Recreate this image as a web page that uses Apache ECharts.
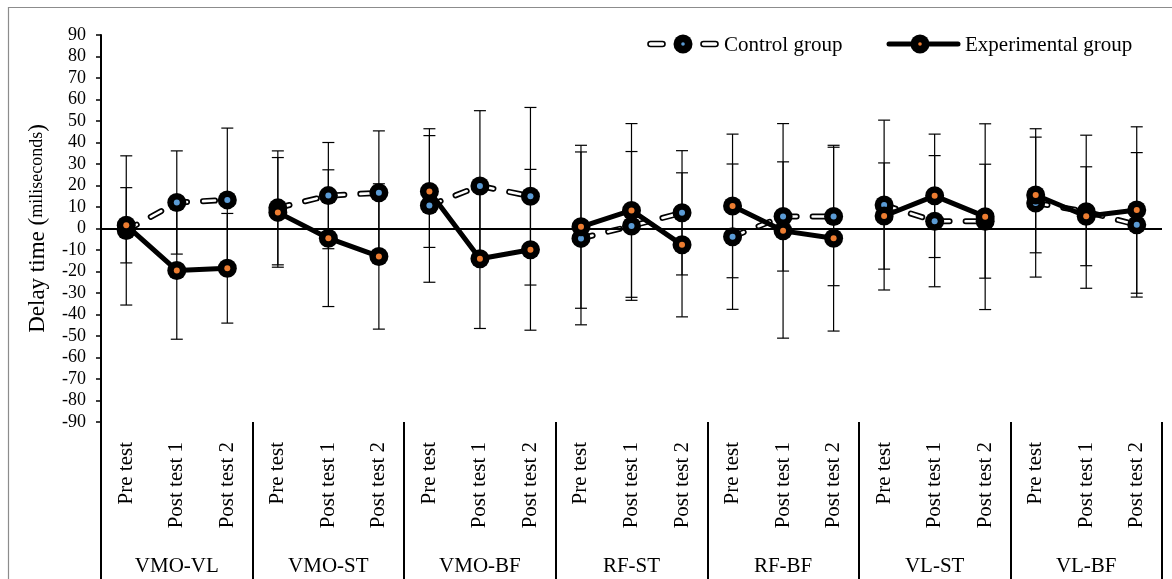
<!DOCTYPE html>
<html>
<head>
<meta charset="utf-8">
<script src="https://cdn.jsdelivr.net/npm/echarts@6/dist/echarts.min.js"></script>
<style>
html,body{margin:0;padding:0;background:#fff;}
#chart{width:1172px;height:579px;}
</style>
</head>
<body>
<div id="chart"></div>
<script>
const sessions = ['Pre test', 'Post test 1', 'Post test 2'];
const groups = ['VMO-VL', 'VMO-ST', 'VMO-BF', 'RF-ST', 'RF-BF', 'VL-ST', 'VL-BF'];
const yTicks = {min: -90, max: 90, interval: 10};

const controlMean = [-0.9, 12.1, 13.3,  9.6, 15.3, 16.6,  10.7, 19.8, 15.0,  -4.6, 1.2, 7.3,  -3.8, 5.6, 5.6,  10.9, 3.4, 3.4,  11.9, 7.8, 1.7];
const controlSD   = [34.7, 24.0, 33.4,  26.5, 24.7, 28.8,  35.7, 35.0, 41.3,  40.2, 34.6, 28.9,  33.8, 25.4, 32.2,  39.5, 30.5, 26.5,  34.5, 35.6, 33.6];
const expMean     = [1.5, -19.5, -18.5,  7.5, -4.5, -13.0,  17.2, -14.1, -9.9,  0.8, 8.4, -7.6,  10.5, -1.1, -4.5,  5.8, 15.2, 5.5,  15.6, 5.7, 8.6];
const expSD       = [17.5, 32.0, 25.5,  25.5, 31.8, 33.8,  26.0, 32.4, 37.4,  37.9, 40.4, 33.5,  33.4, 49.9, 43.2,  24.7, 28.7, 43.2,  26.9, 23.0, 38.7];

const FONT = "'Liberation Serif', 'Times New Roman', serif";
const BLUE = '#5b9bd5';
const ORANGE = '#ed7d31';

const categories = [];
groups.forEach(() => sessions.forEach(s => categories.push(s)));

function groupData(arr, g) {
  return arr.map((v, i) => Math.floor(i / sessions.length) === g ? v : '-');
}

const errData = [];
controlMean.forEach((m, i) => errData.push([i, m - controlSD[i], m + controlSD[i]]));
expMean.forEach((m, i) => errData.push([i, m - expSD[i], m + expSD[i]]));

const series = [];
series.push({
  type: 'custom',
  z: 1,
  silent: true,
  encode: {x: 0, y: [1, 2]},
  data: errData,
  renderItem: function (params, api) {
    const i = api.value(0);
    const lo = api.coord([i, api.value(1)]);
    const hi = api.coord([i, api.value(2)]);
    const hw = 6;
    const st = {stroke: '#000', lineWidth: 1.2};
    return {
      type: 'group',
      children: [
        {type: 'line', shape: {x1: lo[0], y1: lo[1], x2: hi[0], y2: hi[1]}, style: st},
        {type: 'line', shape: {x1: lo[0] - hw, y1: lo[1], x2: lo[0] + hw, y2: lo[1]}, style: st},
        {type: 'line', shape: {x1: hi[0] - hw, y1: hi[1], x2: hi[0] + hw, y2: hi[1]}, style: st}
      ]
    };
  },
  markLine: {
    silent: true,
    symbol: ['none', 'none'],
    label: {show: false},
    lineStyle: {color: '#000', width: 2, type: 'solid'},
    data: [{yAxis: 0}]
  }
});

groups.forEach((g, gi) => {
  series.push({
    type: 'line', z: 2, silent: true, showSymbol: false, animation: false,
    data: groupData(controlMean, gi),
    lineStyle: {color: '#000', width: 6, type: [12, 16], cap: 'round', join: 'round'}
  });
  series.push({
    type: 'line', z: 3, silent: true, showSymbol: false, animation: false,
    data: groupData(controlMean, gi),
    lineStyle: {color: '#fff', width: 2.6, type: [12, 16], cap: 'round', join: 'round'}
  });
});
series.push({type: 'scatter', z: 4, silent: true, animation: false, symbol: 'circle', symbolSize: 19,
  itemStyle: {color: '#000', opacity: 1}, data: controlMean});
series.push({type: 'scatter', z: 5, silent: true, animation: false, symbol: 'circle', symbolSize: 6,
  itemStyle: {color: BLUE, opacity: 1}, data: controlMean});

groups.forEach((g, gi) => {
  series.push({
    type: 'line', z: 6, silent: true, showSymbol: false, animation: false,
    data: groupData(expMean, gi),
    lineStyle: {color: '#000', width: 5, cap: 'round', join: 'round'}
  });
});
series.push({type: 'scatter', z: 7, silent: true, animation: false, symbol: 'circle', symbolSize: 19,
  itemStyle: {color: '#000', opacity: 1}, data: expMean});
series.push({type: 'scatter', z: 8, silent: true, animation: false, symbol: 'circle', symbolSize: 6,
  itemStyle: {color: ORANGE, opacity: 1}, data: expMean});

const chart = echarts.init(document.getElementById('chart'), null, {renderer: 'canvas'});
chart.setOption({
  animation: false,
  backgroundColor: '#fff',
  textStyle: {fontFamily: FONT, color: '#000'},
  grid: {left: 101, right: 10, top: 35, bottom: 157, containLabel: false},
  xAxis: [
    {
      type: 'category', data: categories, position: 'bottom', boundaryGap: true,
      axisLine: {show: false}, axisTick: {show: false},
      axisLabel: {rotate: 90, interval: 0, margin: 20, fontSize: 21, fontFamily: FONT, color: '#000'}
    },
    {
      type: 'category', data: groups, position: 'bottom', boundaryGap: true,
      axisLine: {show: false},
      axisTick: {show: true, length: 157, interval: 0, lineStyle: {color: '#000', width: 2}},
      axisLabel: {interval: 0, margin: 134, fontSize: 21, fontFamily: FONT, color: '#000'}
    }
  ],
  yAxis: {
    type: 'value', min: yTicks.min, max: yTicks.max, interval: yTicks.interval,
    axisLine: {show: true, lineStyle: {color: '#000', width: 2}},
    axisTick: {show: true, length: 5, lineStyle: {color: '#000', width: 1.5}},
    splitLine: {show: false},
    axisLabel: {fontSize: 18, fontFamily: FONT, color: '#000', margin: 15},
    name: '{a|Delay time }{p|(}{b|miliseconds}{p|)}',
    nameLocation: 'middle',
    nameGap: 52,
    nameTextStyle: {
      fontFamily: FONT, color: '#000',
      rich: {
        a: {fontSize: 23, fontFamily: FONT, color: '#000'},
        p: {fontSize: 23, fontFamily: FONT, color: '#000'},
        b: {fontSize: 18, fontFamily: FONT, color: '#000'}
      }
    }
  },
  series: series,
  graphic: [
    {type: 'rect', silent: true, z: 100, shape: {x: 8.5, y: 7.5, width: 1200, height: 600},
      style: {fill: 'none', stroke: '#8c8c8c', lineWidth: 1.2}},
    {type: 'group', silent: true, z: 100, children: [
      {type: 'rect', shape: {x: 648, y: 41.5, width: 17, height: 5, r: 2.5}, style: {fill: '#fff', stroke: '#000', lineWidth: 1.6}},
      {type: 'circle', shape: {cx: 683, cy: 44, r: 9.5}, style: {fill: '#000'}},
      {type: 'circle', shape: {cx: 683, cy: 44, r: 1.8}, style: {fill: BLUE}},
      {type: 'rect', shape: {x: 701, y: 41.5, width: 17, height: 5, r: 2.5}, style: {fill: '#fff', stroke: '#000', lineWidth: 1.6}},
      {type: 'text', style: {x: 724, y: 45, text: 'Control group', font: '21px ' + FONT, fill: '#000', verticalAlign: 'middle'}},
      {type: 'line', shape: {x1: 889, y1: 44, x2: 958, y2: 44}, style: {stroke: '#000', lineWidth: 5, lineCap: 'round'}},
      {type: 'circle', shape: {cx: 920, cy: 44, r: 9.5}, style: {fill: '#000'}},
      {type: 'circle', shape: {cx: 920, cy: 44, r: 1.8}, style: {fill: ORANGE}},
      {type: 'text', style: {x: 965, y: 45, text: 'Experimental group', font: '21px ' + FONT, fill: '#000', verticalAlign: 'middle'}}
    ]}
  ]
});
</script>
</body>
</html>
